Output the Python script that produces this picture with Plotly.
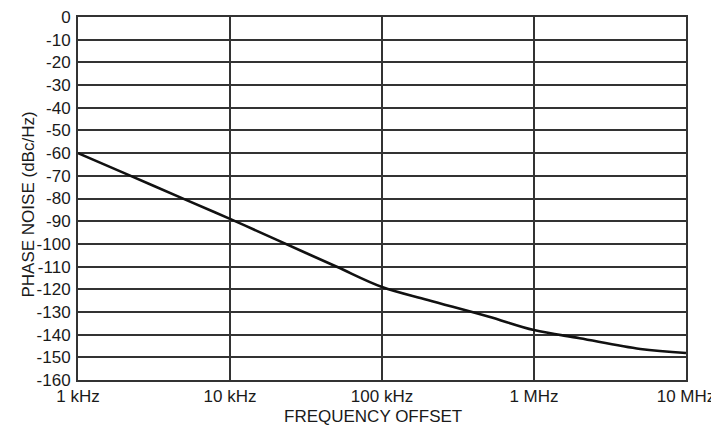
import plotly.graph_objects as go

freq_hz = [1e3, 2e3, 5e3, 1e4, 2e4, 5e4, 1e5, 2e5, 5e5, 1e6, 2e6, 5e6, 1e7]
phase_noise = [-60, -68.7, -80.3, -89, -98, -110, -119, -124.7, -132, -138, -141.6, -146.3, -148.1]

x_tick_vals = [1e3, 1e4, 1e5, 1e6, 1e7]
x_tick_text = ["1 kHz", "10 kHz", "100 kHz", "1 MHz", "10 MHz"]
y_tick_vals = list(range(0, -170, -10))
y_tick_text = [str(v) for v in y_tick_vals]

x_title = "FREQUENCY OFFSET"
y_title = "PHASE NOISE (dBc/Hz)"

fig = go.Figure()
fig.add_trace(go.Scatter(x=freq_hz, y=phase_noise, mode="lines",
                         line=dict(color="#111111", width=2.6, shape="spline"),
                         showlegend=False))

font = "Liberation Sans, Arial, Helvetica, sans-serif"
# page body has an 8px default margin, so the figure is sized/offset to compensate
fig.update_layout(
    width=711, height=421,
    margin=dict(l=70, r=33, t=9, b=49),
    paper_bgcolor="white", plot_bgcolor="white",
    font=dict(family=font, size=17, color="#1a1a1a"),
    xaxis=dict(type="log", range=[3, 7], tickvals=x_tick_vals, ticktext=x_tick_text,
               showgrid=True, gridcolor="#333333", gridwidth=1.6,
               showline=True, linecolor="#333333", linewidth=2, mirror=True,
               ticks="", zeroline=False, automargin=False, ticklabelstandoff=0,
               ticklabeloverflow="allow"),
    yaxis=dict(range=[-160, 0], tickvals=y_tick_vals, ticktext=y_tick_text,
               showgrid=True, gridcolor="#333333", gridwidth=1.6,
               showline=True, linecolor="#333333", linewidth=2, mirror=True,
               ticks="", zeroline=False, automargin=False, ticklabelstandoff=2,
               ticklabeloverflow="allow"),
    annotations=[
        dict(text=x_title, xref="paper", yref="paper", x=0.485, y=-0.1,
             xanchor="center", yanchor="middle", showarrow=False,
             font=dict(size=17)),
        dict(text=y_title, xref="paper", yref="paper", x=-0.0822, y=0.4835,
             xanchor="center", yanchor="middle", showarrow=False, textangle=-90,
             font=dict(size=17)),
    ],
)

fig.write_html("out.html")
